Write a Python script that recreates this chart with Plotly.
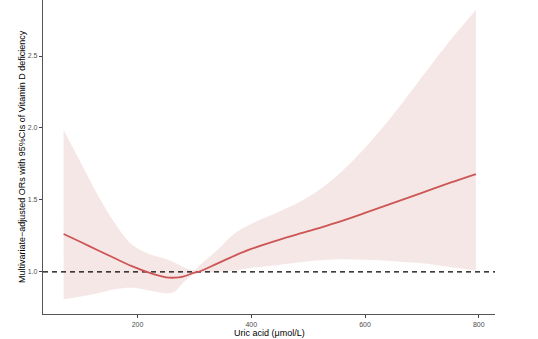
import plotly.graph_objects as go

# Restricted cubic spline: uric acid vs. adjusted OR of vitamin D deficiency
uric_acid = [70, 100, 130, 160, 190, 220, 250, 265, 280, 300, 310, 340, 370, 400,
             450, 500, 550, 600, 650, 700, 750, 795]
or_fit = [1.264, 1.208, 1.151, 1.095, 1.040, 0.995, 0.963, 0.960, 0.968, 0.995, 1.005,
          1.058, 1.112, 1.160, 1.225, 1.283, 1.343, 1.410, 1.480, 1.550, 1.620, 1.680]
ci_upper = [1.986, 1.760, 1.535, 1.340, 1.190, 1.125, 1.090, 1.065, 1.035, 1.015, 1.050,
            1.150, 1.265, 1.335, 1.420, 1.520, 1.665, 1.862, 2.095, 2.355, 2.610, 2.820]
ci_lower = [0.810, 0.830, 0.852, 0.880, 0.890, 0.872, 0.852, 0.862, 0.925, 0.985, 0.995,
            1.000, 1.010, 1.028, 1.050, 1.075, 1.088, 1.085, 1.075, 1.060, 1.035, 1.009]
reference_or = 1.0

x_ticks = [200, 400, 600, 800]
y_ticks = [1.0, 1.5, 2.0, 2.5]

FONT = "Liberation Sans, Arial, sans-serif"

fig = go.Figure()

# Confidence band: lower edge, then upper edge filled down to it
fig.add_trace(go.Scatter(
    x=uric_acid, y=ci_lower, mode="lines",
    line=dict(width=0, shape="spline", color="rgba(0,0,0,0)"),
    hoverinfo="skip", showlegend=False,
))
fig.add_trace(go.Scatter(
    x=uric_acid, y=ci_upper, mode="lines", fill="tonexty",
    fillcolor="rgba(240,215,215,0.6)",
    line=dict(width=0, shape="spline", color="rgba(0,0,0,0)"),
    hoverinfo="skip", showlegend=False,
))

# Reference line at OR = 1
fig.add_trace(go.Scatter(
    x=[33.7, 828.6], y=[reference_or, reference_or], mode="lines",
    line=dict(color="black", width=1.3, dash="5px,4px"),
    showlegend=False,
))

# Fitted curve
fig.add_trace(go.Scatter(
    x=uric_acid, y=or_fit, mode="lines",
    line=dict(color="#CD5555", width=1.8, shape="spline"),
    showlegend=False,
))

axis_common = dict(
    showgrid=False, zeroline=False, showline=True, linecolor="#555555", linewidth=1.2,
    ticks="outside", ticklen=3, tickcolor="#444444", tickwidth=1,
    tickfont=dict(family=FONT, size=7, color="#4D4D4D"),
)

fig.update_layout(
    width=538, height=339,
    margin=dict(l=43, r=43, t=0, b=25),
    paper_bgcolor="white", plot_bgcolor="white",
    xaxis=dict(range=[33.7, 828.6], tickvals=x_ticks, **axis_common),
    yaxis=dict(range=[0.708, 2.889], tickvals=y_ticks, tickformat=".1f", **axis_common),
    annotations=[
        dict(text="Uric acid (\u03bcmol/L)", xref="paper", yref="paper", x=0.5, y=0,
             xanchor="center", yanchor="middle", yshift=-19, showarrow=False,
             font=dict(family=FONT, size=9, color="black")),
        dict(text="Multivariate\u2212adjusted ORs with 95%CIs of Vitamin D deficiency",
             xref="paper", yref="paper", x=0, y=0.5, xanchor="center", yanchor="middle",
             xshift=-21, textangle=-90, showarrow=False,
             font=dict(family=FONT, size=9, color="black")),
    ],
)

fig.write_html("out.html")
